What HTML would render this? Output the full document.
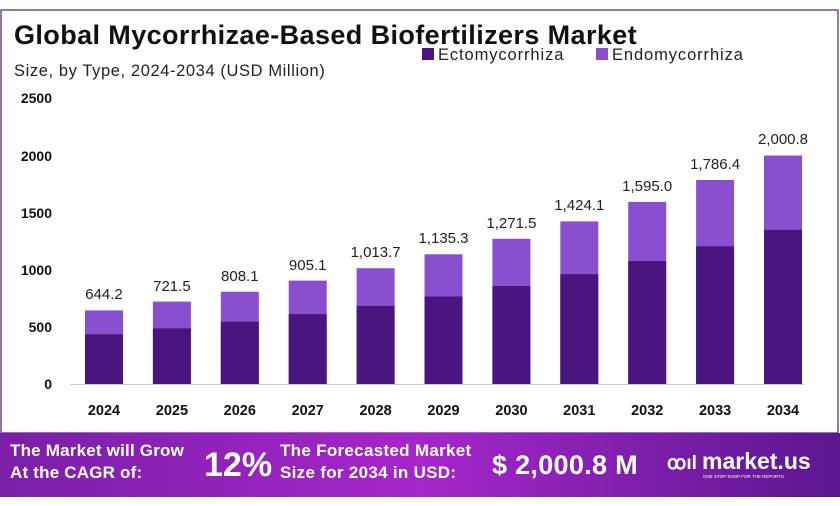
<!DOCTYPE html>
<html><head><meta charset="utf-8"><style>
body{margin:0;background:#fff;}
svg{display:block;font-family:"Liberation Sans",sans-serif;}
</style></head><body>
<svg width="840" height="506" viewBox="0 0 840 506">
<defs>
<linearGradient id="bn" x1="0" x2="1" y1="0" y2="0">
<stop offset="0" stop-color="#7a1fa8"/><stop offset="0.5" stop-color="#a626c9"/><stop offset="1" stop-color="#5a1790"/>
</linearGradient>
</defs>
<rect x="0" y="0" width="840" height="506" fill="#fff"/>
<rect x="1" y="10" width="837" height="423" fill="#fff" stroke="#6b4b8f" stroke-width="1.5"/>
<text x="14" y="44" font-size="27" font-weight="bold" fill="#111" letter-spacing="0.4">Global Mycorrhizae-Based Biofertilizers Market</text>
<text x="14" y="76" font-size="16.5" fill="#222" letter-spacing="0.6">Size, by Type, 2024-2034 (USD Million)</text>
<rect x="422" y="48" width="12" height="12" fill="#4b1580"/>
<text x="438" y="60" font-size="16.5" fill="#222" letter-spacing="0.9">Ectomycorrhiza</text>
<rect x="596" y="48" width="12" height="12" fill="#8a4fcf"/>
<text x="612" y="60" font-size="16.5" fill="#222" letter-spacing="0.9">Endomycorrhiza</text>
<g font-size="14" font-weight="bold" fill="#111" text-anchor="end">
<text x="52" y="103">2500</text><text x="52" y="161">2000</text><text x="52" y="218">1500</text>
<text x="52" y="275">1000</text><text x="52" y="332">500</text><text x="52" y="389">0</text>
</g>
<line x1="70" y1="384.5" x2="805" y2="384.5" stroke="#ccc" stroke-width="1"/>
<g fill="#8a4fcf">
<rect x="85" y="310.4" width="38" height="73.6"/>
<rect x="152.9" y="301.6" width="38" height="82.4"/>
<rect x="220.8" y="291.7" width="38" height="92.3"/>
<rect x="288.7" y="280.6" width="38" height="103.4"/>
<rect x="356.6" y="268.2" width="38" height="115.8"/>
<rect x="424.5" y="254.3" width="38" height="129.7"/>
<rect x="492.4" y="238.8" width="38" height="145.2"/>
<rect x="560.3" y="221.4" width="38" height="162.6"/>
<rect x="628.2" y="201.9" width="38" height="182.1"/>
<rect x="696.1" y="180.0" width="38" height="204.0"/>
<rect x="764" y="155.5" width="38" height="228.5"/>
</g>
<g fill="#4b1580">
<rect x="85" y="334.3" width="38" height="49.7"/>
<rect x="152.9" y="328.4" width="38" height="55.6"/>
<rect x="220.8" y="321.7" width="38" height="62.3"/>
<rect x="288.7" y="314.2" width="38" height="69.8"/>
<rect x="356.6" y="305.9" width="38" height="78.1"/>
<rect x="424.5" y="296.5" width="38" height="87.5"/>
<rect x="492.4" y="286.0" width="38" height="98.0"/>
<rect x="560.3" y="274.2" width="38" height="109.8"/>
<rect x="628.2" y="261.1" width="38" height="122.9"/>
<rect x="696.1" y="246.3" width="38" height="137.7"/>
<rect x="764" y="229.8" width="38" height="154.2"/>
</g>
<g font-size="15" fill="#222" text-anchor="middle">
<text x="104" y="299">644.2</text>
<text x="171.9" y="291">721.5</text>
<text x="239.8" y="281">808.1</text>
<text x="307.7" y="270">905.1</text>
<text x="375.6" y="257">1,013.7</text>
<text x="443.5" y="243">1,135.3</text>
<text x="511.4" y="228">1,271.5</text>
<text x="579.3" y="210">1,424.1</text>
<text x="647.2" y="191">1,595.0</text>
<text x="715.1" y="169">1,786.4</text>
<text x="783" y="144">2,000.8</text>
</g>
<g font-size="14.5" font-weight="bold" fill="#111" text-anchor="middle">
<text x="104" y="415">2024</text><text x="171.9" y="415">2025</text><text x="239.8" y="415">2026</text>
<text x="307.7" y="415">2027</text><text x="375.6" y="415">2028</text><text x="443.5" y="415">2029</text>
<text x="511.4" y="415">2030</text><text x="579.3" y="415">2031</text><text x="647.2" y="415">2032</text>
<text x="715.1" y="415">2033</text><text x="783" y="415">2034</text>
</g>
<rect x="0" y="433" width="840" height="64" fill="url(#bn)"/>
<g fill="#fff" font-weight="bold">
<text x="10" y="456" font-size="17" letter-spacing="0.2">The Market will Grow</text>
<text x="10" y="478" font-size="17" letter-spacing="0.2">At the CAGR of:</text>
<text x="204" y="476" font-size="34">12%</text>
<text x="280" y="456" font-size="17" letter-spacing="0.3">The Forecasted Market</text>
<text x="280" y="478" font-size="17" letter-spacing="0.3">Size for 2034 in USD:</text>
<text x="492" y="474" font-size="27" letter-spacing="0.3">$ 2,000.8 M</text>
<text x="667" y="469" font-size="19">ꝏıl</text>
<text x="702" y="469" font-size="23">market.us</text>
<text x="703" y="478" font-size="4.5" font-weight="normal">ONE STOP SHOP FOR THE REPORTS</text>
</g>
</svg>
</body></html>
